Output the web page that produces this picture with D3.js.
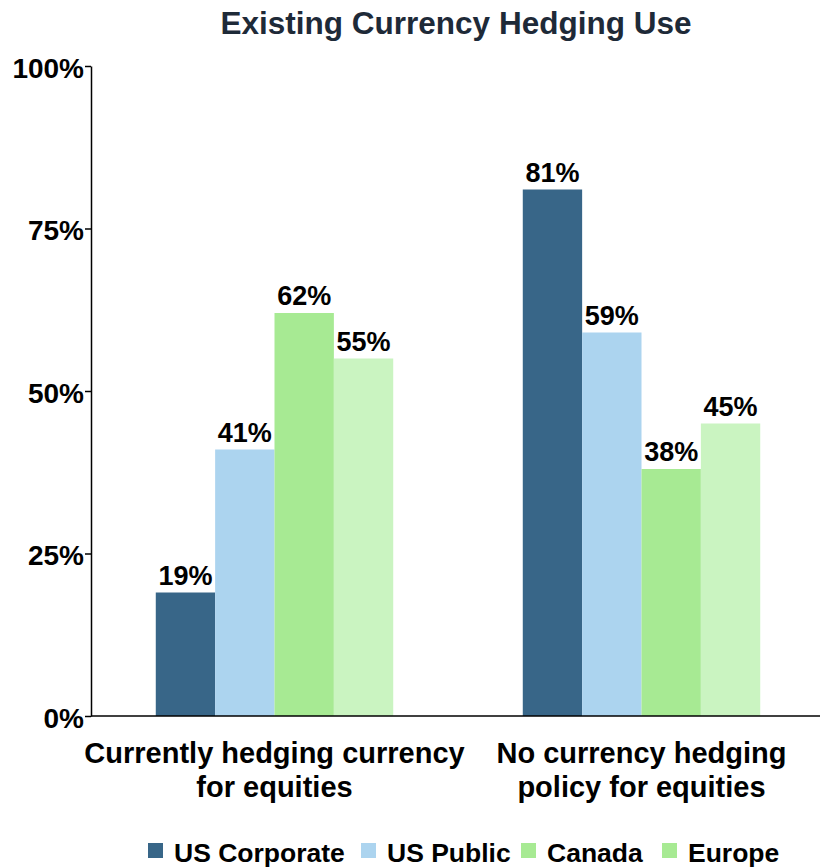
<!DOCTYPE html>
<html><head><meta charset="utf-8">
<script src="https://cdn.jsdelivr.net/npm/d3@7"></script>
<style>body{margin:0;background:#fff;} text{font-family:"Liberation Sans",Arial,sans-serif;font-weight:bold;}</style>
</head><body>
<svg id="chart" width="820" height="867"></svg>
<script>
const categories = [["Currently hedging currency","for equities"],["No currency hedging","policy for equities"]];
const seriesNames = ["US Corporate","US Public","Canada","Europe"];
const usCorporate = [19, 81];
const usPublic = [41, 59];
const canada = [62, 38];
const europe = [55, 45];
const yTicks = [0, 25, 50, 75, 100];
const colors = ["#386688","#acd4ef","#a7ea93","#caf4c1"];
const legendColors = ["#386688","#acd4ef","#a7ea93","#a7ea93"];

const series = [usCorporate, usPublic, canada, europe];
const svg = d3.select("#chart");
const y = d3.scaleLinear().domain([0,100]).range([716,66]);
const x0 = d3.scaleBand().domain(d3.range(categories.length)).range([91,825]).paddingInner(0.353).paddingOuter(0.1765);
const x1 = d3.scaleBand().domain(d3.range(series.length)).range([0, x0.bandwidth()]);

svg.append("text").attr("x",456).attr("y",34).attr("text-anchor","middle")
  .attr("font-size",31.5).attr("fill","#1e2a38").text("Existing Currency Hedging Use");

const yAxis = svg.append("g").attr("transform","translate(91,0)")
  .call(d3.axisLeft(y).tickValues(yTicks).tickFormat(d=>d+"%").tickSize(6).tickSizeOuter(0));
yAxis.select(".domain").attr("stroke","#000").attr("stroke-width",1.5);
yAxis.selectAll(".tick line").attr("stroke","#000").attr("stroke-width",1.5);
yAxis.selectAll(".tick text").attr("font-size",28).attr("fill","#000").attr("x",-7).attr("dy","0.4em")
  .style("font-family","Liberation Sans, Arial, sans-serif").style("font-weight","bold");

series.forEach((vals, si) => {
  const g = svg.append("g");
  vals.forEach((v, ci) => {
    const bx = x0(ci) + x1(si);
    g.append("rect").attr("x",bx).attr("y",y(v)).attr("width",x1.bandwidth()).attr("height",y(0)-y(v)).attr("fill",colors[si]);
    g.append("text").attr("x",bx + x1.bandwidth()/2).attr("y",y(v)-8).attr("text-anchor","middle")
      .attr("font-size",27).attr("fill","#000").text(v+"%");
  });
});

svg.append("line").attr("x1",91).attr("x2",820).attr("y1",y(0)).attr("y2",y(0)).attr("stroke","#000").attr("stroke-width",1.5);

categories.forEach((lines, ci) => {
  const cx = x0(ci)+x0.bandwidth()/2;
  const t = svg.append("text").attr("x", cx).attr("y",763).attr("text-anchor","middle")
    .attr("font-size",29).attr("fill","#000");
  lines.forEach((l,i)=> t.append("tspan").attr("x",cx).attr("dy", i? 34:0).text(l));
});

const legendX = [148, 361, 521, 662];
seriesNames.forEach((n,i)=>{
  svg.append("rect").attr("x",legendX[i]).attr("y",843).attr("width",15).attr("height",15).attr("fill",legendColors[i]);
  svg.append("text").attr("x",legendX[i]+26).attr("y",862).attr("font-size",26.5).attr("fill","#000").text(n);
});
</script>
</body></html>
